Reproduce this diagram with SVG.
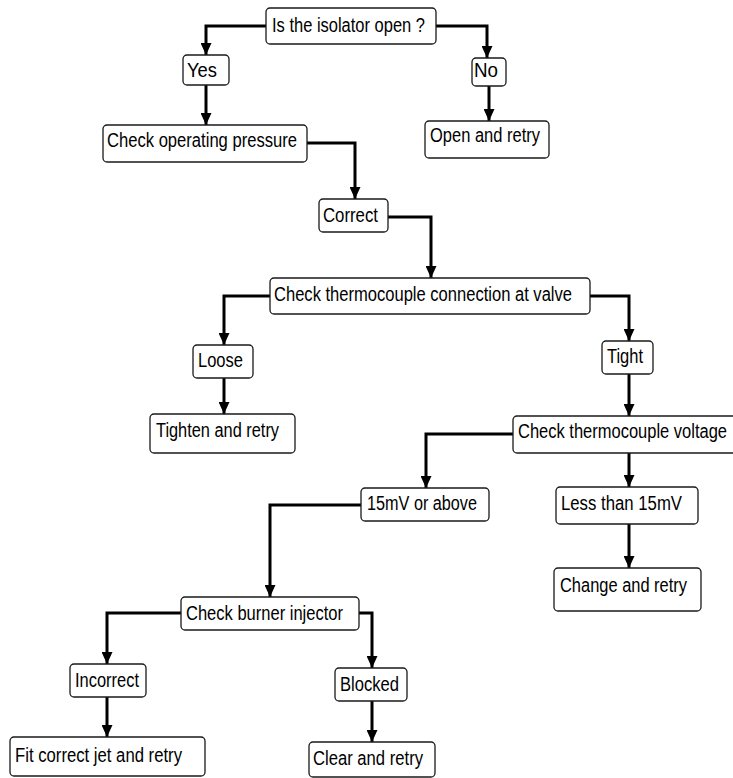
<svg xmlns="http://www.w3.org/2000/svg" width="733" height="778" viewBox="0 0 733 778">
<style>
.b{fill:#fff;stroke:#1a1a1a;stroke-width:1.3}
.t{font-family:"Liberation Sans",Arial,sans-serif;font-size:20px;fill:#000}
.c{fill:none;stroke:#000;stroke-width:3;marker-end:url(#ah)}
</style>
<defs>
<marker id="ah" markerUnits="userSpaceOnUse" markerWidth="13" markerHeight="11" refX="12" refY="5.5" orient="auto">
<path d="M0,0 L12,5.5 L0,11 z" fill="#000"/>
</marker>
</defs>
<rect width="733" height="778" fill="#fff"/>
<g id="connectors">
<polyline class="c" points="266,26 206,26 206,55"/>
<polyline class="c" points="436,26 487,26 487,58"/>
<polyline class="c" points="206,85 206,125"/>
<polyline class="c" points="489,86 489,121"/>
<polyline class="c" points="307,143 355,143 355,199"/>
<polyline class="c" points="388,217 431,217 431,278"/>
<polyline class="c" points="270,296 224,296 224,345"/>
<polyline class="c" points="224,378 224,414"/>
<polyline class="c" points="590,296 629,296 629,341"/>
<polyline class="c" points="629,374 629,416"/>
<polyline class="c" points="513,434 426,434 426,488"/>
<polyline class="c" points="629,453 629,487"/>
<polyline class="c" points="629,524 629,568"/>
<polyline class="c" points="361,505 270,505 270,597"/>
<polyline class="c" points="181,613 107,613 107,664"/>
<polyline class="c" points="107,697 107,737"/>
<polyline class="c" points="359,613 372,613 372,668"/>
<polyline class="c" points="372,701 372,742"/>
</g>
<g id="n-isolator"><rect class="b" x="266" y="8" width="170" height="36" rx="4"/><text class="t" x="272" y="32" textLength="153" lengthAdjust="spacingAndGlyphs">Is the isolator open ?</text></g>
<g id="n-yes"><rect class="b" x="183" y="55" width="46" height="30" rx="4"/><text class="t" x="187" y="77" textLength="30" lengthAdjust="spacingAndGlyphs">Yes</text></g>
<g id="n-no"><rect class="b" x="472" y="58" width="34" height="28" rx="4"/><text class="t" x="474" y="77" textLength="24" lengthAdjust="spacingAndGlyphs">No</text></g>
<g id="n-open"><rect class="b" x="425" y="121" width="124" height="37" rx="4"/><text class="t" x="430" y="142" textLength="110" lengthAdjust="spacingAndGlyphs">Open and retry</text></g>
<g id="n-pressure"><rect class="b" x="103" y="125" width="204" height="37" rx="4"/><text class="t" x="107" y="147" textLength="190" lengthAdjust="spacingAndGlyphs">Check operating pressure</text></g>
<g id="n-correct"><rect class="b" x="319" y="199" width="69" height="33" rx="4"/><text class="t" x="323" y="222" textLength="55" lengthAdjust="spacingAndGlyphs">Correct</text></g>
<g id="n-connection"><rect class="b" x="270" y="278" width="320" height="36" rx="4"/><text class="t" x="274" y="301" textLength="298" lengthAdjust="spacingAndGlyphs">Check thermocouple connection at valve</text></g>
<g id="n-loose"><rect class="b" x="193" y="345" width="60" height="33" rx="4"/><text class="t" x="198" y="367" textLength="45" lengthAdjust="spacingAndGlyphs">Loose</text></g>
<g id="n-tighten"><rect class="b" x="150" y="414" width="145" height="39" rx="4"/><text class="t" x="156" y="437" textLength="123" lengthAdjust="spacingAndGlyphs">Tighten and retry</text></g>
<g id="n-tight"><rect class="b" x="602" y="341" width="51" height="33" rx="4"/><text class="t" x="607" y="363" textLength="36" lengthAdjust="spacingAndGlyphs">Tight</text></g>
<g id="n-voltage"><rect class="b" x="513" y="416" width="224" height="37" rx="4"/><text class="t" x="518" y="438" textLength="209" lengthAdjust="spacingAndGlyphs">Check thermocouple voltage</text></g>
<g id="n-15above"><rect class="b" x="361" y="488" width="128" height="33" rx="4"/><text class="t" x="367" y="510" textLength="110" lengthAdjust="spacingAndGlyphs">15mV or above</text></g>
<g id="n-less"><rect class="b" x="556" y="487" width="142" height="37" rx="4"/><text class="t" x="561" y="510" textLength="121" lengthAdjust="spacingAndGlyphs">Less than 15mV</text></g>
<g id="n-change"><rect class="b" x="554" y="568" width="147" height="43" rx="4"/><text class="t" x="560" y="592" textLength="127" lengthAdjust="spacingAndGlyphs">Change and retry</text></g>
<g id="n-burner"><rect class="b" x="181" y="597" width="178" height="33" rx="4"/><text class="t" x="186" y="620" textLength="157" lengthAdjust="spacingAndGlyphs">Check burner injector</text></g>
<g id="n-incorrect"><rect class="b" x="70" y="664" width="76" height="33" rx="4"/><text class="t" x="75" y="687" textLength="64" lengthAdjust="spacingAndGlyphs">Incorrect</text></g>
<g id="n-fit"><rect class="b" x="10" y="737" width="195" height="39" rx="4"/><text class="t" x="15" y="762" textLength="167" lengthAdjust="spacingAndGlyphs">Fit correct jet and retry</text></g>
<g id="n-blocked"><rect class="b" x="335" y="668" width="72" height="33" rx="4"/><text class="t" x="340" y="691" textLength="59" lengthAdjust="spacingAndGlyphs">Blocked</text></g>
<g id="n-clear"><rect class="b" x="309" y="742" width="126" height="35" rx="4"/><text class="t" x="313" y="765" textLength="110" lengthAdjust="spacingAndGlyphs">Clear and retry</text></g>
</svg>
